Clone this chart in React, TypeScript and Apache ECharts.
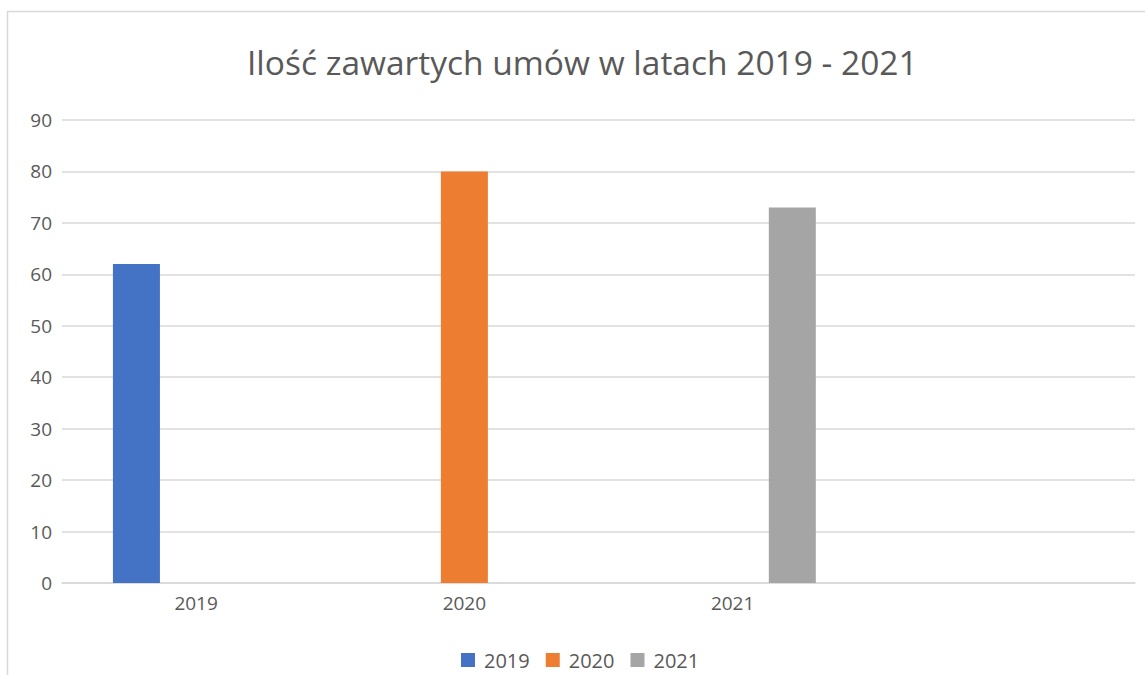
import React, { useEffect, useRef } from "react";
import * as echarts from "echarts";

const categories = ["2019", "2020", "2021", ""];
const seriesNames = ["2019", "2020", "2021"];
const values2019 = [62, null, null, null];
const values2020 = [null, 80, null, null];
const values2021 = [null, null, 73, null];
const colors = ["#4472C4", "#ED7D31", "#A5A5A5"];
const yTicks = { min: 0, max: 90, interval: 10 };
const titleText = "Ilość zawartych umów w latach 2019 - 2021";

const FONT = "Open Sans";

export default function App() {
  const ref = useRef<HTMLDivElement>(null);
  useEffect(() => {
    if (!ref.current) return;
    const chart = echarts.init(ref.current, null, { renderer: "svg" });
    const seriesData = [values2019, values2020, values2021];
    chart.setOption({
      animation: false,
      backgroundColor: "#ffffff",
      textStyle: { fontFamily: FONT },
      title: {
        text: titleText,
        left: 247,
        top: 45,
        padding: 0,
        textStyle: { fontFamily: FONT, fontSize: 33.5, fontWeight: "normal", color: "#595959" },
      },
      graphic: [
        {
          type: "rect",
          shape: { x: 7.5, y: 11.5, width: 1160, height: 700 },
          style: { fill: "none", stroke: "#d9d9d9", lineWidth: 1.5 },
          silent: true,
          z: -1,
        },
      ],
      legend: {
        bottom: 0,
        left: 456,
        itemWidth: 14,
        itemHeight: 14,
        itemGap: 16,
        icon: "rect",
        data: seriesNames,
        textStyle: { fontFamily: FONT, fontSize: 20, color: "#595959", padding: [0, 0, 0, 4] },
      },
      grid: { left: 62, right: 10, top: 120, bottom: 92, containLabel: false },
      xAxis: {
        type: "category",
        data: categories,
        axisLine: { show: true, lineStyle: { color: "#d9d9d9", width: 1.5 } },
        axisTick: { show: false },
        axisLabel: { fontFamily: FONT, fontSize: 19, color: "#595959", margin: 10 },
        splitLine: { show: false },
      },
      yAxis: {
        type: "value",
        min: yTicks.min,
        max: yTicks.max,
        interval: yTicks.interval,
        axisLine: { show: false },
        axisTick: { show: false },
        axisLabel: { fontFamily: FONT, fontSize: 19, color: "#595959", margin: 10 },
        splitLine: { show: true, lineStyle: { color: "#d9d9d9", width: 1.5 } },
      },
      series: seriesNames.map((name, i) => ({
        name,
        type: "bar",
        data: seriesData[i],
        barWidth: 47,
        barGap: "27%",
        itemStyle: { color: colors[i] },
      })),
    });
    return () => chart.dispose();
  }, []);
  return (
    <div
      ref={ref}
      style={{ position: "fixed", left: 0, top: 0, width: 1145, height: 675 }}
    />
  );
}
